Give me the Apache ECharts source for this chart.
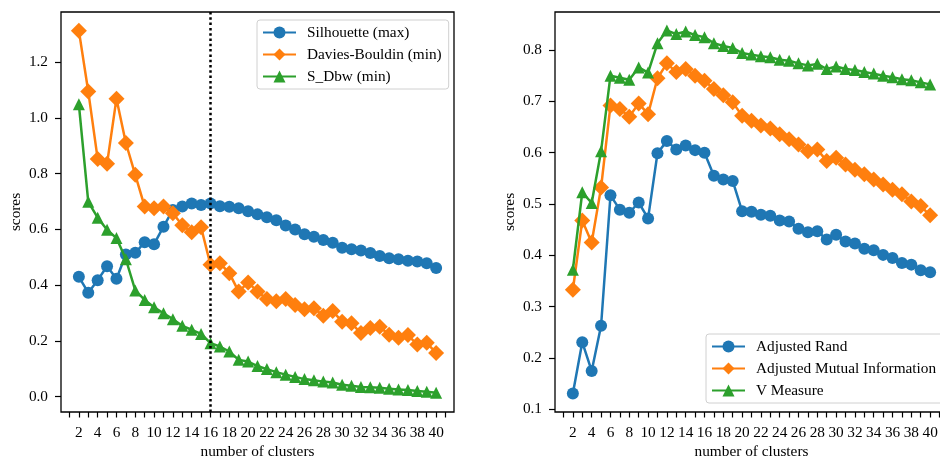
<!DOCTYPE html>
<html>
<head>
<meta charset="utf-8">
<script src="https://cdn.jsdelivr.net/npm/echarts@6/dist/echarts.min.js"></script>
<style>html,body{margin:0;padding:0;background:#fff}#c{width:940px;height:459px}</style>
</head>
<body>
<div id="c"></div>
<script>
const clusters = [2,3,4,5,6,7,8,9,10,11,12,13,14,15,16,17,18,19,20,21,22,23,24,25,26,27,28,29,30,31,32,33,34,35,36,37,38,39,40];
const silhouette = [0.430,0.373,0.418,0.468,0.423,0.510,0.516,0.554,0.547,0.610,0.670,0.682,0.693,0.688,0.693,0.683,0.681,0.676,0.665,0.654,0.644,0.633,0.614,0.600,0.583,0.574,0.562,0.552,0.534,0.529,0.524,0.515,0.505,0.497,0.493,0.488,0.485,0.479,0.462];
const daviesBouldin = [1.313,1.095,0.853,0.836,1.069,0.910,0.796,0.682,0.676,0.682,0.658,0.615,0.590,0.608,0.473,0.479,0.443,0.377,0.410,0.377,0.350,0.342,0.350,0.329,0.314,0.317,0.290,0.307,0.269,0.263,0.228,0.246,0.251,0.222,0.211,0.221,0.187,0.193,0.157];
const sDbw = [1.049,0.699,0.642,0.599,0.569,0.493,0.381,0.347,0.321,0.299,0.278,0.254,0.240,0.225,0.192,0.180,0.162,0.132,0.126,0.110,0.099,0.088,0.079,0.071,0.063,0.059,0.054,0.051,0.043,0.039,0.035,0.034,0.032,0.028,0.026,0.024,0.020,0.018,0.014];
const adjustedRand = [0.131,0.231,0.175,0.263,0.517,0.489,0.483,0.503,0.472,0.599,0.623,0.606,0.614,0.605,0.600,0.555,0.548,0.545,0.486,0.485,0.479,0.477,0.468,0.466,0.452,0.445,0.447,0.431,0.440,0.427,0.423,0.413,0.410,0.401,0.395,0.385,0.382,0.371,0.367];
const adjustedMI = [0.333,0.468,0.425,0.532,0.692,0.685,0.670,0.696,0.675,0.745,0.774,0.757,0.763,0.750,0.740,0.724,0.712,0.698,0.672,0.662,0.653,0.647,0.636,0.626,0.616,0.603,0.606,0.584,0.590,0.577,0.567,0.558,0.548,0.538,0.528,0.519,0.505,0.496,0.478];
const vMeasure = [0.372,0.523,0.502,0.603,0.750,0.746,0.742,0.766,0.756,0.813,0.838,0.831,0.836,0.829,0.825,0.813,0.808,0.804,0.794,0.791,0.788,0.786,0.781,0.779,0.774,0.770,0.773,0.763,0.768,0.763,0.761,0.757,0.754,0.750,0.747,0.743,0.741,0.737,0.733];
const xTickValues = [1,2,3,4,5,6,7,8,9,10,11,12,13,14,15,16,17,18,19,20,21,22,23,24,25,26,27,28,29,30,31,32,33,34,35,36,37,38,39,40,41];
const xLabelValues = [2,4,6,8,10,12,14,16,18,20,22,24,26,28,30,32,34,36,38,40];
const yLeftTicks = [0.0,0.2,0.4,0.6,0.8,1.0,1.2];
const yRightTicks = [0.1,0.2,0.3,0.4,0.5,0.6,0.7,0.8];
const bestK = 16;
const namesLeft = ['Silhouette (max)','Davies-Bouldin (min)','S_Dbw (min)'];
const namesRight = ['Adjusted Rand','Adjusted Mutual Information','V Measure'];

const FONT = 'Liberation Serif';
const FS = 15.3;
const C = ['#1f77b4','#ff7f0e','#2ca02c'];
const SYM = ['circle','diamond','triangle'];
const SSIZE = [12,16,12];

function xAx(gi){
  return {type:'value', gridIndex:gi, min:0.1, max:41.9,
    name:'number of clusters', nameLocation:'middle', nameGap:30,
    nameTextStyle:{fontFamily:FONT,fontSize:FS,color:'#000'},
    axisLine:{show:false,onZero:false},
    axisTick:{show:true,length:5.5,customValues:xTickValues,lineStyle:{color:'#000',width:1.2}},
    axisLabel:{customValues:xLabelValues,fontFamily:FONT,fontSize:FS,color:'#000',margin:13},
    splitLine:{show:false}};
}
function yAx(gi,min,max,ticks){
  return {type:'value', gridIndex:gi, min:min, max:max,
    name:'scores', nameLocation:'middle', nameGap:38, nameRotate:90,
    nameTextStyle:{fontFamily:FONT,fontSize:FS,color:'#000'},
    axisLine:{show:false,onZero:false},
    axisTick:{show:true,length:6,customValues:ticks,lineStyle:{color:'#000',width:1.2}},
    axisLabel:{customValues:ticks,fontFamily:FONT,fontSize:FS,color:'#000',margin:13,formatter:v=>Number(v).toFixed(1)},
    splitLine:{show:false}};
}
function ser(name,arr,i,gi){
  return {type:'line', name:name, xAxisIndex:gi, yAxisIndex:gi,
    data:clusters.map((k,j)=>[k,arr[j]]),
    symbol:SYM[i], symbolSize:SSIZE[i], showSymbol:true,
    lineStyle:{color:C[i],width:2.5}, itemStyle:{color:C[i]},
    z:2+i, silent:true};
}
function leg(names,pos){
  return Object.assign({data:names, orient:'vertical',
    itemWidth:33, itemHeight:15, itemGap:7,
    padding:[5,7,5,5],
    borderColor:'#d0d0d0', borderWidth:1, borderRadius:3, backgroundColor:'rgba(255,255,255,0.8)',
    textStyle:{fontFamily:FONT,fontSize:FS,color:'#000',lineHeight:15,padding:[0,0,0,6]},
    selectedMode:false}, pos);
}

const series = [
  ser(namesLeft[0],silhouette,0,0),
  ser(namesLeft[1],daviesBouldin,1,0),
  ser(namesLeft[2],sDbw,2,0),
  ser(namesRight[0],adjustedRand,0,1),
  ser(namesRight[1],adjustedMI,1,1),
  ser(namesRight[2],vMeasure,2,1)
];
series[2].markLine = {silent:true, symbol:'none', label:{show:false},
  lineStyle:{color:'#000',width:2.5,type:[2.5,2.8]},
  emphasis:{disabled:true}, data:[{xAxis:bestK}], z:10};

const chart = echarts.init(document.getElementById('c'),null,{renderer:'canvas'});
chart.setOption({
  animation:false,
  backgroundColor:'#fff',
  grid:[
    {left:61,top:12,width:393,height:400,outerBoundsMode:'none',containLabel:false,show:true,borderColor:'#000',borderWidth:1.3,backgroundColor:'transparent'},
    {left:555,top:12,width:393,height:400,outerBoundsMode:'none',containLabel:false,show:true,borderColor:'#000',borderWidth:1.3,backgroundColor:'transparent'}
  ],
  xAxis:[xAx(0),xAx(1)],
  yAxis:[yAx(0,-0.055,1.38,yLeftTicks),yAx(1,0.095,0.874,yRightTicks)],
  legend:[leg(namesLeft,{left:257,top:20}), leg(namesRight,{left:706,top:334})],
  series:series
});
</script>
</body>
</html>
